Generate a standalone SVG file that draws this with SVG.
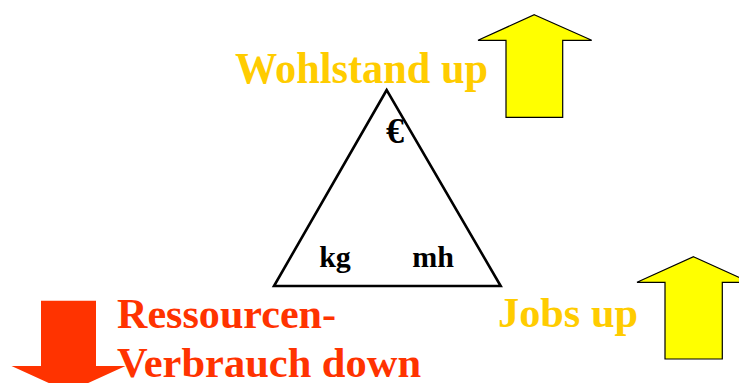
<svg xmlns="http://www.w3.org/2000/svg" width="739" height="383" viewBox="0 0 739 383">
<style>
.t{font-family:"Liberation Serif","Times New Roman",serif;font-weight:bold}
.y{fill:#FFCC00;font-size:43px}
.r{fill:#FF3300;font-size:43px}
.k{fill:#000;font-size:30px}
.ua{fill:#FFFF00;stroke:#000;stroke-width:1.2}
</style>
<rect width="739" height="383" fill="#fff"/>
<g id="triangle">
<polygon points="386.7,90 274,286 500.7,286" fill="none" stroke="#000" stroke-width="2.6" stroke-linejoin="miter"/>
<text class="t k" x="395" y="143" text-anchor="middle" style="font-size:36px">€</text>
<text class="t k" x="335" y="267" text-anchor="middle">kg</text>
<text class="t k" x="433" y="267" text-anchor="middle">mh</text>
</g>
<g id="wohlstand">
<text class="t y" x="235" y="83" style="font-size:45px" textLength="253" lengthAdjust="spacingAndGlyphs">Wohlstand up</text>
<polygon class="ua" points="534.3,14.7 591.7,40.3 562.7,40.3 562.7,117.3 506,117.3 506,40.3 478,40.3"/>
</g>
<g id="jobs">
<text class="t y" x="498" y="327" textLength="140" lengthAdjust="spacingAndGlyphs">Jobs up</text>
<polygon class="ua" points="693.5,256.7 750,282.3 722.3,282.3 722.3,359 665,359 665,282.3 637,282.3"/>
</g>
<g id="ressourcen">
<polygon fill="#FF3300" points="41,300.7 96,300.7 96,366 125.5,366 68.5,392 11.5,366 41,366"/>
<text class="t r" x="117" y="328" textLength="219" lengthAdjust="spacingAndGlyphs">Ressourcen-</text>
<text class="t r" x="117" y="377" textLength="304" lengthAdjust="spacingAndGlyphs">Verbrauch down</text>
</g>
<g id="connectors"></g>
</svg>
